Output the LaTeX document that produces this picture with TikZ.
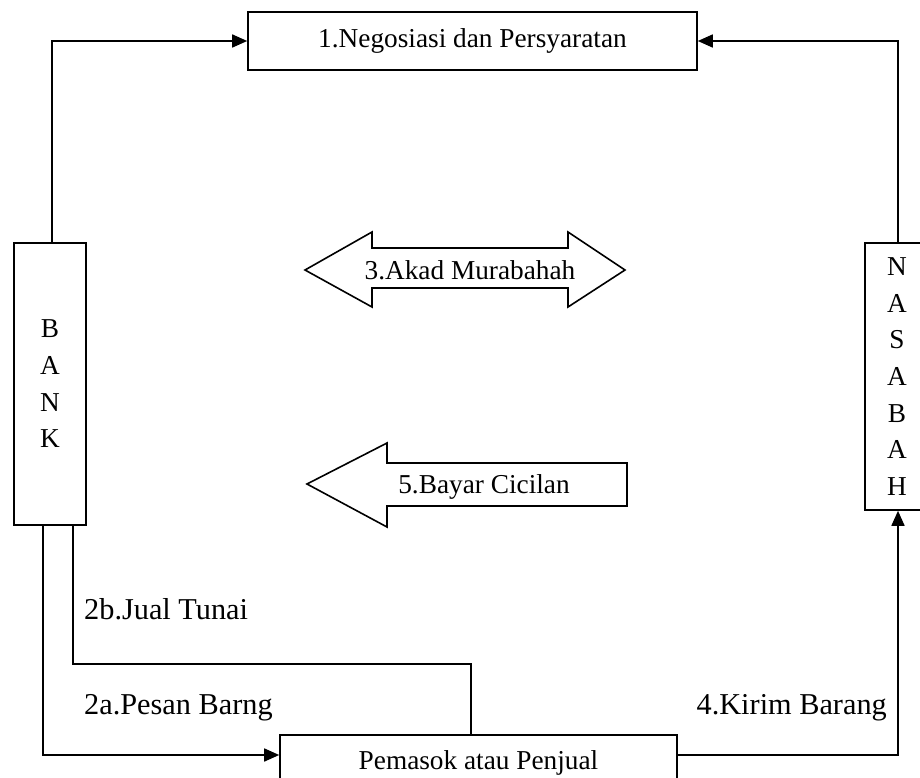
\documentclass[tikz,border=0pt]{standalone}
\usepackage{fontspec}
\setmainfont{Liberation Serif}
\usetikzlibrary{arrows.meta}
\begin{document}
\begin{tikzpicture}[x=1pt,y=-1pt,
  box/.style={draw, line width=1.6pt, inner sep=0pt},
  lbl/.style={font=\fontsize{27.3}{36.7}\selectfont, inner sep=0pt},
  biglbl/.style={font=\fontsize{30.3}{36}\selectfont, inner sep=0pt},
  conn/.style={line width=1.6pt},
  arr/.style={conn, -{Triangle[length=15pt,width=13pt]}},
  blockarrow/.style={draw, line width=1.6pt, line join=miter}]
\useasboundingbox (0,0) rectangle (920,778);
\clip (0,0) rectangle (920,778);
\fill[white] (0,0) rectangle (920,778);

\node[box, lbl, minimum width=449pt, minimum height=58pt] (neg) at (472.5,41) {1.Negosiasi dan Persyaratan};
\node[box, lbl, align=center, minimum width=72pt, minimum height=282pt] (bank) at (50,384) {B\\A\\N\\K};
\node[box, lbl, align=center, minimum width=64pt, minimum height=267pt] (nas) at (897,376.5) {N\\A\\S\\A\\B\\A\\H};
\node[box, lbl, minimum width=397pt, minimum height=56pt] (pem) at (478.5,763) {Pemasok atau Penjual};

\draw[arr] ([xshift=2pt]bank.north) |- (neg.west);
\draw[arr] ([xshift=1pt]nas.north) |- (neg.east);
\draw[arr] ([xshift=-7pt]bank.south) |- ([yshift=8pt]pem.west);
\coordinate (c2b) at (471,664);
\draw[conn] ([xshift=23pt]bank.south) |- (c2b) -- (c2b |- pem.north);
\draw[arr] ([yshift=8pt]pem.east) -| ([xshift=1pt]nas.south);

\node[biglbl, anchor=base west] (l2b) at (84,619) {2b.Jual Tunai};
\node[biglbl, anchor=base west] (l2a) at (84,714) {2a.Pesan Barng};
\node[biglbl, anchor=base east] (l4) at (887,714) {4.Kirim Barang};

\draw[blockarrow] (305,270) -- (372,232) -- (372,248) -- (568,248) -- (568,232) -- (625,270) -- (568,307) -- (568,288) -- (372,288) -- (372,307) -- cycle;
\node[lbl, anchor=base] (akad) at (470,279) {3.Akad Murabahah};
\draw[blockarrow] (307,484) -- (387,443) -- (387,463) -- (627,463) -- (627,506) -- (387,506) -- (387,527) -- cycle;
\node[lbl, anchor=base] (bayar) at (484,493) {5.Bayar Cicilan};
\end{tikzpicture}
\end{document}
